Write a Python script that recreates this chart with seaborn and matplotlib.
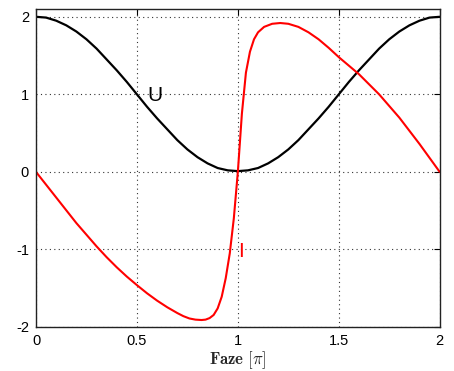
import numpy as np
import pandas as pd
import matplotlib
matplotlib.use("Agg")
import matplotlib.pyplot as plt
import seaborn as sns

# Phase in units of pi
u_phase = [0.0, 0.05, 0.1, 0.15, 0.2, 0.25, 0.3, 0.35, 0.4, 0.45, 0.5,
           0.55, 0.6, 0.65, 0.7, 0.75, 0.8, 0.85, 0.9, 0.95, 1.0,
           1.05, 1.1, 1.15, 1.2, 1.25, 1.3, 1.35, 1.4, 1.45, 1.5,
           1.55, 1.6, 1.65, 1.7, 1.75, 1.8, 1.85, 1.9, 1.95, 2.0]
u_values = [2.0, 1.99, 1.95, 1.89, 1.81, 1.71, 1.59, 1.45, 1.31, 1.16, 1.0,
            0.84, 0.69, 0.55, 0.41, 0.29, 0.19, 0.11, 0.05, 0.02, 0.01,
            0.02, 0.05, 0.11, 0.19, 0.29, 0.41, 0.55, 0.69, 0.84, 1.0,
            1.16, 1.31, 1.45, 1.59, 1.71, 1.81, 1.89, 1.95, 1.99, 2.0]

i_phase = [0.0, 0.05, 0.1, 0.15, 0.2, 0.25, 0.3, 0.35, 0.4, 0.45, 0.5, 0.55,
           0.6, 0.65, 0.7, 0.73, 0.76, 0.79, 0.82, 0.84, 0.86, 0.88,
           0.9, 0.92, 0.94, 0.96, 0.98, 1.0, 1.02, 1.04, 1.06, 1.08, 1.1,
           1.13, 1.17, 1.21, 1.25, 1.3, 1.35, 1.4, 1.45, 1.5, 1.55, 1.6,
           1.65, 1.7, 1.75, 1.8, 1.85, 1.9, 1.95, 2.0]
i_values = [0.0, -0.165, -0.33, -0.495, -0.66, -0.81, -0.96, -1.1, -1.23, -1.35,
            -1.46, -1.565, -1.66, -1.745, -1.82, -1.86, -1.89, -1.905, -1.91,
            -1.905, -1.885, -1.845, -1.76, -1.61, -1.37, -1.05, -0.6, 0.0,
            0.75, 1.28, 1.55, 1.71, 1.8, 1.87, 1.91, 1.92, 1.91, 1.87, 1.8,
            1.71, 1.6, 1.48, 1.37, 1.26, 1.13, 1.0, 0.85, 0.7, 0.53, 0.36,
            0.18, 0.0]

x_ticks = [0, 0.5, 1, 1.5, 2]
x_tick_labels = ["0", "0.5", "1", "1.5", "2"]
y_ticks = [-2, -1, 0, 1, 2]
y_tick_labels = ["-2", "-1", "0", "1", "2"]

sns.set_style("white")
plt.rcParams["font.family"] = ["Liberation Sans", "DejaVu Sans"]
plt.rcParams["mathtext.fontset"] = "cm"

df_u = pd.DataFrame({"faze": u_phase, "val": u_values})
df_i = pd.DataFrame({"faze": i_phase, "val": i_values})

fig = plt.figure(figsize=(4.54, 3.71), dpi=100)
ax = fig.add_axes([0.0793, 0.1186, 0.8892, 0.857])

sns.lineplot(data=df_u, x="faze", y="val", color="black", linewidth=1.6, ax=ax, sort=False)
sns.lineplot(data=df_i, x="faze", y="val", color="#ff0000", linewidth=1.5, ax=ax, sort=False)

ax.set_xlim(0, 2)
ax.set_ylim(-2, 2.1)
ax.set_xticks(x_ticks)
ax.set_xticklabels(x_tick_labels)
ax.set_yticks(y_ticks)
ax.set_yticklabels(y_tick_labels)
ax.tick_params(direction="in", length=4, width=0.8, top=True, right=True,
               labelsize=10.5, colors="black", pad=5)
ax.grid(True, linestyle=(0, (1, 3)), color="#333333", linewidth=0.8)

for s in ax.spines.values():
    s.set_visible(True)
    s.set_color("#222222")
    s.set_linewidth(1.0)

ax.set_xlabel(r"$\mathbf{Faze}\ [\pi]$", fontsize=12, labelpad=1)
ax.set_ylabel("")

ax.text(0.59, 0.99, "U", fontsize=15, color="black", ha="center", va="center")
ax.text(1.017, -1.02, "I", fontsize=15, color="#ff0000", ha="center", va="center")

fig.savefig("out.png", dpi=100)
